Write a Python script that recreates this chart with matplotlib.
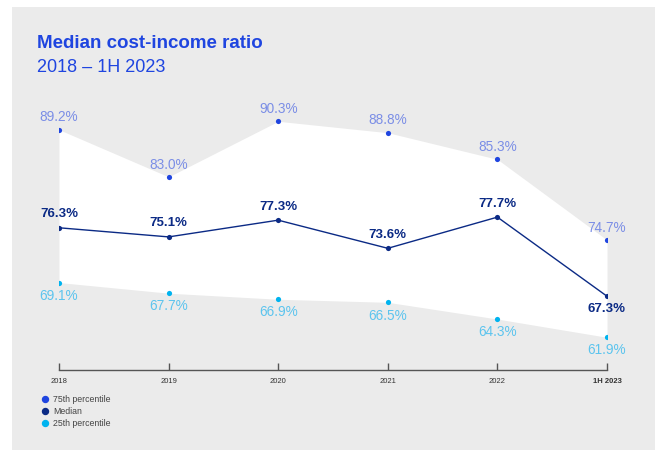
import matplotlib.pyplot as plt
from matplotlib.patches import Rectangle
from matplotlib.lines import Line2D

plt.rcParams['font.family'] = ['Liberation Sans', 'DejaVu Sans']

# Data
years = ["2018", "2019", "2020", "2021", "2022", "1H 2023"]
p75 = [89.2, 83.0, 90.3, 88.8, 85.3, 74.7]
median = [76.3, 75.1, 77.3, 73.6, 77.7, 67.3]
p25 = [69.1, 67.7, 66.9, 66.5, 64.3, 61.9]

# Colours
c75 = '#1f45e0'
c75_txt = '#7b8ee6'
cmed = '#0b2a85'
c25 = '#00b3ef'
c25_txt = '#5cc4ee'
panel = '#ebebeb'

W, H = 657, 450
fig = plt.figure(figsize=(W / 100, H / 100), dpi=100)
fig.patch.set_facecolor('white')
fig.patches.append(Rectangle((12 / W, 0), 643 / W, 443 / H, transform=fig.transFigure,
                             facecolor=panel, edgecolor='none', zorder=-10))

ax = fig.add_axes([59 / W, 80 / H, 548 / W, 270 / H])
ax.set_facecolor('none')
x = list(range(len(years)))

ax.fill_between(x, p25, p75, color='white', lw=0, zorder=1)
ax.plot(x, median, color=cmed, lw=1.0, zorder=3)
ax.scatter(x, p75, s=14, color=c75, zorder=4, lw=0)
ax.scatter(x, median, s=14, color=cmed, zorder=4, lw=0)
ax.scatter(x, p25, s=14, color=c25, zorder=4, lw=0)

ax.set_xlim(0, 5)
ax.set_ylim(57.6, 93.1)

# value labels
for i in x:
    ax.annotate(f"{p75[i]:.1f}%", (i, p75[i]), xytext=(0, 8.8), textcoords='offset points',
                ha='center', va='center', fontsize=9.8, color=c75_txt)
    dy = -9.5 if i == 5 else 9.8
    ax.annotate(f"{median[i]:.1f}%", (i, median[i]), xytext=(0, dy), textcoords='offset points',
                ha='center', va='center', fontsize=9.5, fontweight='bold', color=cmed)
    ax.annotate(f"{p25[i]:.1f}%", (i, p25[i]), xytext=(0, -9.5), textcoords='offset points',
                ha='center', va='center', fontsize=9.8, color=c25_txt)

# axis styling
for s in ['top', 'right', 'left']:
    ax.spines[s].set_visible(False)
ax.spines['bottom'].set_color('#555555')
ax.spines['bottom'].set_linewidth(1.0)
ax.set_yticks([])
ax.set_xticks(x)
ax.set_xticklabels(years, fontsize=5.5, color='#333333')
ax.get_xticklabels()[-1].set_fontweight('bold')
ax.tick_params(axis='x', direction='in', length=5, width=1, color='#555555', pad=6)

# titles
fig.text(37 / W, 1 - 44 / H, "Median cost-income ratio", fontsize=13.5, fontweight='bold',
         color=c75, va='center', ha='left')
fig.text(37 / W, 1 - 68 / H, "2018 \u2013 1H 2023", fontsize=13, color=c75,
         va='center', ha='left')

# legend
handles = [Line2D([], [], marker='o', ls='', color=c, markersize=4.3) for c in (c75, cmed, c25)]
leg = fig.legend(handles, ["75th percentile", "Median", "25th percentile"],
                 loc='upper left', bbox_to_anchor=(40 / W, 1 - 395 / H), frameon=False,
                 fontsize=6.3, handletextpad=0.3, labelspacing=0.32, handlelength=1.2,
                 borderpad=0, borderaxespad=0)
for t in leg.get_texts():
    t.set_color('#444444')

fig.savefig('out.png', dpi=100)
